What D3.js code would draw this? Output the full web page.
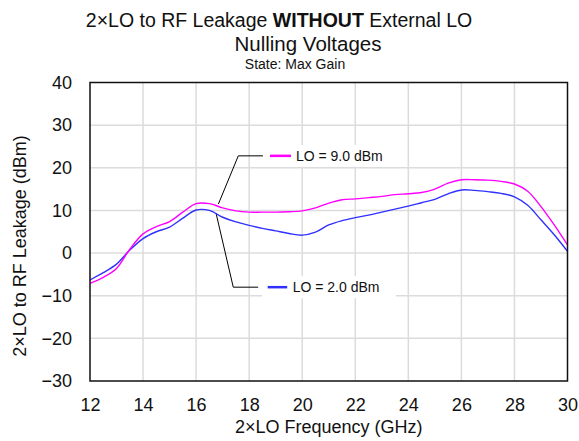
<!DOCTYPE html>
<html>
<head>
<meta charset="utf-8">
<script src="https://cdn.jsdelivr.net/npm/d3@7"></script>
<style>
  html, body { margin: 0; padding: 0; background: #fff; }
  svg { display: block; font-family: "Liberation Sans", Arial, sans-serif; }
</style>
</head>
<body>
<svg id="chart" width="579" height="441"></svg>
<script>
// 2×LO frequency sweep (GHz)
const freqGHz = [12, 12.5, 13, 13.5, 14, 14.5, 15, 15.5, 16, 16.5, 17, 17.5, 18, 18.5, 19, 19.5,
  20, 20.5, 21, 21.5, 22, 22.5, 23, 23.5, 24, 24.5, 25, 25.5, 26, 26.5, 27, 27.5, 28, 28.5, 29, 29.5, 30];

// Leakage (dBm) at LO = 9.0 dBm
const leakLO9 = [-7.1, -5.7, -3.6, 0.9, 4.5, 6.2, 7.4, 9.6, 11.6, 11.6, 10.6, 9.9, 9.6, 9.6, 9.6, 9.7,
  9.9, 10.6, 11.7, 12.5, 12.7, 13.0, 13.3, 13.7, 13.9, 14.2, 15.0, 16.4, 17.2, 17.2, 17.1, 16.8, 16.2, 14.5, 10.9, 6.6, 1.9];

// Leakage (dBm) at LO = 2.0 dBm
const leakLO2 = [-6.3, -4.6, -2.6, 0.7, 3.4, 5.0, 6.1, 8.2, 10.1, 10.0, 8.4, 7.3, 6.5, 5.8, 5.2, 4.6,
  4.2, 4.9, 6.6, 7.6, 8.3, 8.9, 9.6, 10.3, 11.0, 11.8, 12.6, 13.9, 14.8, 14.7, 14.4, 14.0, 13.2, 11.2, 7.8, 4.3, 0.4];

const xTicks = [12, 14, 16, 18, 20, 22, 24, 26, 28, 30];
const yTicks = [-30, -20, -10, 0, 10, 20, 30, 40];

const seriesNames = ["LO = 9.0 dBm", "LO = 2.0 dBm"];
const seriesColors = ["#ff00ff", "#3030ff"];

const svg = d3.select("#chart");
const plot = { left: 90, right: 567.5, top: 82.5, bottom: 381 };

const x = d3.scaleLinear().domain([12, 30]).range([plot.left, plot.right]);
const y = d3.scaleLinear().domain([-30, 40]).range([plot.bottom, plot.top]);

// Grid
const grid = svg.append("g").attr("stroke", "#dcdcdc").attr("stroke-width", 1.5);
grid.selectAll("line.v").data(xTicks.slice(1, -1)).join("line")
  .attr("x1", d => x(d)).attr("x2", d => x(d))
  .attr("y1", plot.top).attr("y2", plot.bottom);
grid.selectAll("line.h").data(yTicks.slice(1, -1)).join("line")
  .attr("x1", plot.left).attr("x2", plot.right)
  .attr("y1", d => y(d)).attr("y2", d => y(d));

// Axes (labels only; frame drawn separately)
const xAxis = svg.append("g")
  .attr("transform", `translate(0,${plot.bottom})`)
  .call(d3.axisBottom(x).tickValues(xTicks).tickSize(0).tickPadding(17).tickFormat(d3.format("d")));
const yAxis = svg.append("g")
  .attr("transform", `translate(${plot.left},0)`)
  .call(d3.axisLeft(y).tickValues(yTicks).tickSize(0).tickPadding(18).tickFormat(d3.format("d")));
[xAxis, yAxis].forEach(a => {
  a.select(".domain").remove();
  a.selectAll("text").attr("font-size", 18).attr("fill", "#111")
    .attr("font-family", "Liberation Sans, Arial, sans-serif");
});

// Series lines
const line = d3.line().curve(d3.curveCatmullRom.alpha(0.5))
  .x((d, i) => x(freqGHz[i])).y(d => y(d));
svg.append("clipPath").attr("id", "plotclip").append("rect")
  .attr("x", plot.left).attr("y", plot.top)
  .attr("width", plot.right - plot.left).attr("height", plot.bottom - plot.top);

// Callout leader lines: curve point -> knee -> end of horizontal run
const callouts = [
  { name: seriesNames[0], color: seriesColors[0], fx: 16.84, fy: 11.5, kx: 17.59, ky: 22.8, ex: 18.52,
    seg: [7, 28], tx: 33, box: [264, 132] },
  { name: seriesNames[1], color: seriesColors[1], fx: 16.75, fy: 9.4, kx: 17.4, ky: -8.0, ex: 18.34,
    seg: [9.5, 29], tx: 34.5, box: [262, 134] }
];
callouts.forEach(c => {
  svg.append("polyline")
    .attr("points", [[x(c.fx), y(c.fy)], [x(c.kx), y(c.ky)], [x(c.ex), y(c.ky)]].map(p => p.join(",")).join(" "))
    .attr("fill", "none").attr("stroke", "#000").attr("stroke-width", 1);
});

const lines = svg.append("g").attr("clip-path", "url(#plotclip)");
[[leakLO2, seriesColors[1]], [leakLO9, seriesColors[0]]].forEach(([vals, col]) => {
  lines.append("path").datum(vals)
    .attr("fill", "none")
    .attr("stroke", col)
    .attr("stroke-width", 1.4)
    .attr("d", line);
});

callouts.forEach(c => {
  const yy = y(c.ky);
  svg.append("rect").attr("x", c.box[0]).attr("y", yy - 11).attr("width", c.box[1]).attr("height", 22)
    .attr("fill", "#fff");
  svg.append("line").attr("x1", x(c.ex) + c.seg[0]).attr("x2", x(c.ex) + c.seg[1])
    .attr("y1", yy).attr("y2", yy).attr("stroke", c.color).attr("stroke-width", 2.5);
  svg.append("text").attr("x", x(c.ex) + c.tx).attr("y", yy + 5)
    .attr("font-size", 14).attr("fill", "#111").text(c.name);
});

// Plot frame
svg.append("rect")
  .attr("x", plot.left).attr("y", plot.top)
  .attr("width", plot.right - plot.left).attr("height", plot.bottom - plot.top)
  .attr("fill", "none").attr("stroke", "#111").attr("stroke-width", 1.5);

// Titles
const t1 = svg.append("text").attr("x", 279).attr("y", 27).attr("text-anchor", "middle")
  .attr("font-size", 19.5).attr("fill", "#111");
t1.append("tspan").text("2×LO to RF Leakage ");
t1.append("tspan").attr("font-weight", "bold").text("WITHOUT");
t1.append("tspan").text(" External LO");
svg.append("text").attr("x", 308).attr("y", 51).attr("text-anchor", "middle")
  .attr("font-size", 20.5).attr("fill", "#111").text("Nulling Voltages");
svg.append("text").attr("x", 295).attr("y", 69).attr("text-anchor", "middle")
  .attr("font-size", 14).attr("fill", "#111").text("State: Max Gain");

// Axis titles
svg.append("text").attr("x", (plot.left + plot.right) / 2).attr("y", 433)
  .attr("text-anchor", "middle").attr("font-size", 18).attr("fill", "#111")
  .text("2×LO Frequency (GHz)");
svg.append("text")
  .attr("transform", `translate(26,${246}) rotate(-90)`)
  .attr("text-anchor", "middle").attr("font-size", 18).attr("fill", "#111")
  .text("2×LO to RF Leakage (dBm)");
</script>
</body>
</html>
